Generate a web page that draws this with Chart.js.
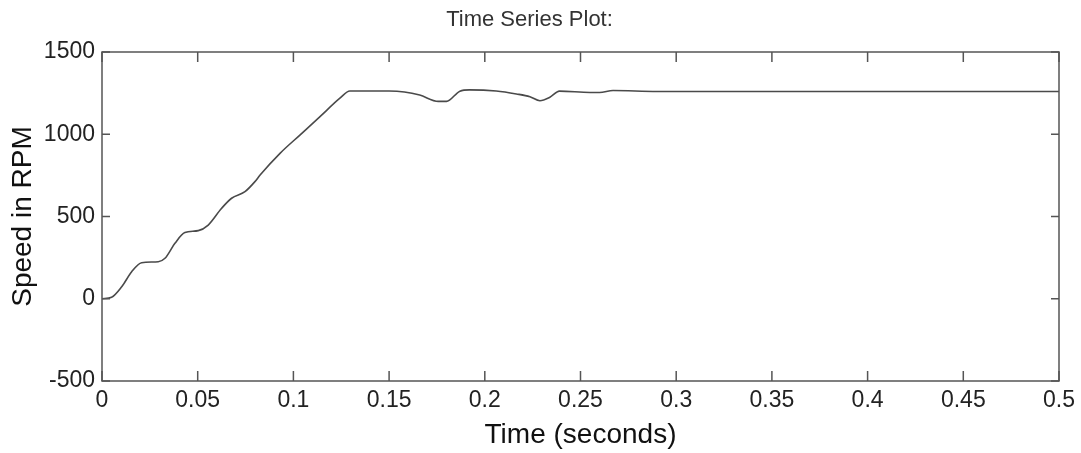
<!DOCTYPE html>
<html>
<head>
<meta charset="utf-8">
<script src="https://cdn.jsdelivr.net/npm/chart.js@4/dist/chart.umd.min.js"></script>
<style>
  html, body { margin: 0; padding: 0; background: #fff; }
  #wrap { width: 1081px; height: 453px; }
</style>
</head>
<body>
<div id="wrap"><canvas id="myChart"></canvas></div>
<script>
// time in seconds, speed in rpm
var times = [0, 0.005, 0.0103, 0.0155, 0.0207, 0.0294, 0.0329, 0.0381, 0.0433, 0.0503, 0.0555,
             0.0625, 0.0677, 0.0747, 0.0799, 0.0826, 0.093, 0.1034, 0.1139, 0.1243, 0.1295,
             0.150, 0.158, 0.166, 0.1757, 0.180, 0.187, 0.192, 0.206, 0.2165, 0.2236, 0.2288,
             0.234, 0.239, 0.255, 0.260, 0.267, 0.29, 0.5];
var speeds = [0, 9, 73, 164, 219, 225, 246, 337, 402, 414, 448,
              550, 611, 651, 712, 752, 884, 995, 1107, 1219, 1263,
              1263, 1257, 1238, 1200, 1200, 1262, 1270, 1263, 1245, 1228, 1204,
              1225, 1262, 1254, 1254, 1266, 1260, 1260];
var xTicks = [0, 0.05, 0.1, 0.15, 0.2, 0.25, 0.3, 0.35, 0.4, 0.45, 0.5];
var yTicks = [-500, 0, 500, 1000, 1500];

var points = times.map(function (t, i) { return {x: t, y: speeds[i]}; });

// box round the plot with inward ticks on all four sides
var boxTicks = {
  id: 'boxTicks',
  afterDraw: function (chart) {
    var ctx = chart.ctx, a = chart.chartArea;
    var xs = chart.scales.x, ys = chart.scales.y;
    ctx.save();
    ctx.strokeStyle = '#555';
    ctx.lineWidth = 1.5;
    ctx.strokeRect(a.left, a.top, a.right - a.left, a.bottom - a.top);
    ctx.beginPath();
    xTicks.forEach(function (v) {
      var px = xs.getPixelForValue(v);
      ctx.moveTo(px, a.bottom); ctx.lineTo(px, a.bottom - 10);
      ctx.moveTo(px, a.top); ctx.lineTo(px, a.top + 10);
    });
    yTicks.forEach(function (v) {
      var py = ys.getPixelForValue(v);
      ctx.moveTo(a.left, py); ctx.lineTo(a.left + 8, py);
      ctx.moveTo(a.right, py); ctx.lineTo(a.right - 8, py);
    });
    ctx.stroke();
    ctx.restore();
  }
};

var contx = document.getElementById('myChart').getContext('2d');
var myChart = new Chart(contx, {
  type: 'line',
  data: {
    datasets: [{
      label: 'Speed',
      data: points,
      borderColor: '#4a4a4a',
      borderWidth: 1.6,
      pointRadius: 0,
      fill: false,
      cubicInterpolationMode: 'monotone'
    }]
  },
  options: {
    responsive: true,
    maintainAspectRatio: false,
    animation: false,
    layout: { padding: { left: 0, right: 22, top: 0, bottom: 0 } },
    plugins: {
      legend: { display: false },
      tooltip: { enabled: false },
      title: {
        display: true,
        text: 'Time Series Plot:',
        color: '#333',
        font: { family: 'Liberation Sans', size: 22, weight: 'normal' },
        padding: { top: 7, bottom: 18.6 }
      }
    },
    scales: {
      x: {
        type: 'linear',
        min: 0,
        max: 0.5,
        afterFit: function (s) { s.height = 72; },
        afterBuildTicks: function (s) { s.ticks = xTicks.map(function (v) { return {value: v}; }); },
        grid: { display: false, drawTicks: false },
        border: { display: false },
        ticks: {
          padding: 6,
          color: '#222',
          maxRotation: 0,
          font: { family: 'Liberation Sans', size: 23 },
          callback: function (v) { return String(v); }
        },
        title: {
          display: true,
          text: 'Time (seconds)',
          color: '#111',
          font: { family: 'Liberation Sans', size: 28 },
          padding: { top: 0, bottom: 1 }
        }
      },
      y: {
        min: -500,
        max: 1500,
        afterFit: function (s) { s.width = 102; },
        afterBuildTicks: function (s) { s.ticks = yTicks.map(function (v) { return {value: v}; }); },
        grid: { display: false, drawTicks: false },
        border: { display: false },
        ticks: {
          padding: 7,
          color: '#222',
          font: { family: 'Liberation Sans', size: 23 },
          callback: function (v) { return String(v); }
        },
        title: {
          display: true,
          text: 'Speed in RPM',
          color: '#111',
          font: { family: 'Liberation Sans', size: 28 },
          padding: { top: 6, bottom: 0 }
        }
      }
    }
  },
  plugins: [boxTicks]
});
</script>
</body>
</html>
